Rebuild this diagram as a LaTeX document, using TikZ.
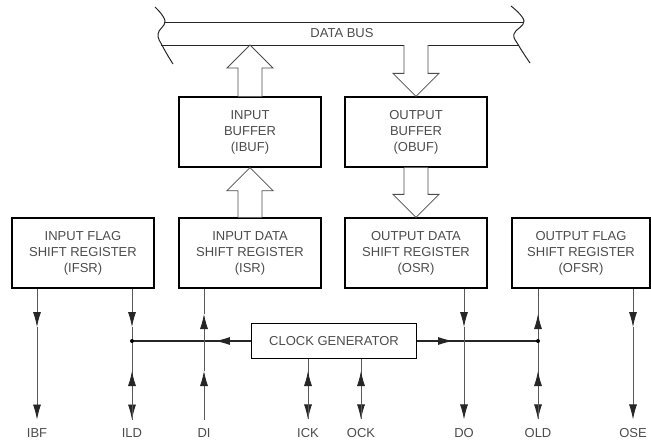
\documentclass[tikz,border=0pt]{standalone}
\usepackage{fontspec}
\setmainfont{Liberation Sans}
\usetikzlibrary{arrows.meta,calc}

\tikzset{
  regbox/.style={draw, line width=1.3pt, minimum width=142pt, minimum height=70pt,
    align=center, text=black!70, font=\fontsize{13}{16}\selectfont},
  clkbox/.style={regbox, minimum width=165pt, minimum height=35pt},
  pinlbl/.style={text=black!70, font=\fontsize{13}{15}\selectfont, inner sep=3pt, outer sep=6pt},
  sig/.style={draw=black!65, line width=0.8pt},
  clk/.style={draw=black!85, line width=1.1pt},
  sigtip/.style={-{Latex[length=15pt,width=8pt,color=black!85]}},
  fat/.style={draw=black!70, line width=0.8pt, fill=white},
  busline/.style={draw=black!85, line width=1pt},
}

% hollow bus arrow: from, to, 1 = up / -1 = down
\newcommand{\fatarrow}[3]{%
  \draw[fat] ($(#1)+(-12,0)$) -- ($(#2)+(-12,#3*23)$) -- ($(#2)+(-23,#3*23)$) -- (#2)
    -- ($(#2)+(23,#3*23)$) -- ($(#2)+(12,#3*23)$) -- ($(#1)+(12,0)$);}

\begin{document}
\begin{tikzpicture}[x=1pt, y=-1pt]
  \useasboundingbox (0,0) rectangle (651,442);

  % data bus
  \draw[busline] plot[smooth, tension=0.7] coordinates {(155,7) (165,21) (158,34) (163,47) (173,64)};
  \draw[busline] plot[smooth, tension=0.7] coordinates {(511,6) (524,21) (514,34) (519,46) (530,63)};
  \draw[busline] (164,22) -- (524,22);
  \draw[busline] (161,45) -- (404,45);
  \draw[busline] (428,45) -- (519,45);
  \node[text=black!70, font=\fontsize{13}{15}\selectfont] (bus) at (342,33) {DATA BUS};
  \coordinate (busin) at (250,45);
  \coordinate (busout) at (416,45);

  % blocks
  \node[regbox] (IBUF) at (250,132) {INPUT\\BUFFER\\(IBUF)};
  \node[regbox] (OBUF) at (416,132) {OUTPUT\\BUFFER\\(OBUF)};
  \node[regbox] (IFSR) at (83,253) {INPUT FLAG\\SHIFT REGISTER\\(IFSR)};
  \node[regbox] (ISR) at (250,253) {INPUT DATA\\SHIFT REGISTER\\(ISR)};
  \node[regbox] (OSR) at (416,253) {OUTPUT DATA\\SHIFT REGISTER\\(OSR)};
  \node[regbox, minimum width=138pt] (OFSR) at (581,253) {OUTPUT FLAG\\SHIFT REGISTER\\(OFSR)};
  \node[clkbox] (CLKGEN) at (334,341) {CLOCK GENERATOR};

  \fatarrow{ISR.north}{IBUF.south}{1}
  \fatarrow{IBUF.north}{busin}{1}
  \fatarrow{busout}{OBUF.north}{-1}
  \fatarrow{OBUF.south}{OSR.north}{-1}

  % pins
  \foreach \pin/\px in {IBF/37, ILD/132, DI/204, ICK/308, OCK/361, DO/464, OLD/538, OSE/633}
    \node[pinlbl] (\pin) at (\px,433) {\pin};

  \coordinate (downrow) at (0,327);
  \coordinate (uprow) at (0,314);
  \coordinate (lowrow) at (0,371);
  \coordinate (ildjoin) at (ILD |- CLKGEN);
  \coordinate (oldjoin) at (OLD |- CLKGEN);

  % clock lines
  \draw[clk] (CLKGEN.west) -- (ildjoin);
  \draw[clk, sigtip] (CLKGEN.west) -- ++(-36,0);
  \draw[clk] (CLKGEN.east) -- (oldjoin);
  \draw[clk, sigtip] (CLKGEN.east) -- ++(36,0);

  % IBF
  \draw[sig, sigtip] (IFSR.south -| IBF) -- (IBF |- downrow);
  \draw[sig, sigtip] (IBF |- downrow) -- (IBF);
  % ILD
  \draw[sig, sigtip] (IFSR.south -| ILD) -- (ILD |- downrow);
  \draw[sig] (ILD |- downrow) -- (ildjoin);
  \draw[sig, sigtip] (ildjoin) -- (ILD);
  \draw[sig, sigtip] (ILD) -- (ILD |- lowrow);
  % DI
  \draw[sig] (ISR.south -| DI) -- (DI |- uprow);
  \draw[sig, sigtip] (DI |- lowrow) -- (DI |- uprow);
  \draw[sig, sigtip] (DI) -- (DI |- lowrow);
  % ICK, OCK
  \foreach \pin in {ICK, OCK} {
    \draw[sig, sigtip] (CLKGEN.south -| \pin) -- (\pin);
    \draw[sig, sigtip] (\pin) -- (\pin |- lowrow);
  }
  % DO
  \draw[sig, sigtip] (OSR.south -| DO) -- (DO |- downrow);
  \draw[sig, sigtip] (DO |- downrow) -- (DO);
  % OLD
  \draw[sig] (oldjoin) -- (OFSR.south -| OLD);
  \draw[sig, sigtip] (oldjoin) -- (OLD |- uprow);
  \draw[sig, sigtip] (oldjoin) -- (OLD);
  \draw[sig, sigtip] (OLD) -- (OLD |- lowrow);
  % OSE
  \draw[sig, sigtip] (OFSR.south -| OSE) -- (OSE |- downrow);
  \draw[sig, sigtip] (OSE |- downrow) -- (OSE);

  \fill (ildjoin) circle (2pt);
  \fill (oldjoin) circle (2pt);
\end{tikzpicture}
\end{document}
